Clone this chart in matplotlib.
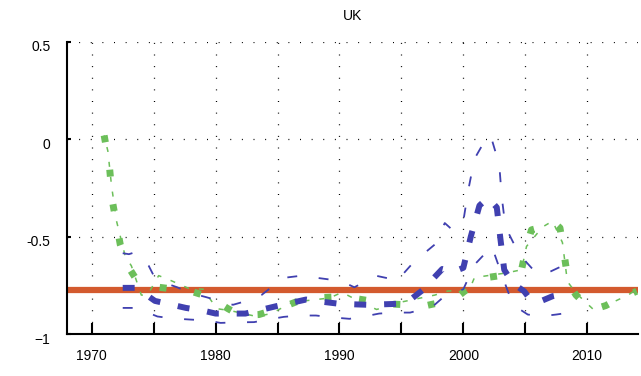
#!/usr/bin/env python3
import matplotlib

matplotlib.use("Agg")
import matplotlib.pyplot as plt
from matplotlib.transforms import ScaledTranslation

# blue band: central estimate and upper / lower bounds
blue_mid_years = [1972.5, 1973.6, 1975.1, 1976.5, 1977.6, 1979.0, 1980.0, 1982.4, 1984.9,
                  1987.3, 1988.7, 1990.0, 1992.3, 1994.7, 1995.8, 1996.7, 1997.5, 1998.3,
                  1999.2, 2000.0, 2000.6, 2001.3, 2002.0, 2002.7, 2003.0, 2003.3, 2004.0,
                  2004.9, 2005.5, 2006.3, 2007.2, 2008.4]
blue_mid = [-0.763, -0.763, -0.83, -0.85, -0.866, -0.88, -0.895, -0.895, -0.857,
            -0.823, -0.835, -0.845, -0.85, -0.845, -0.82, -0.775, -0.72, -0.666,
            -0.68, -0.66, -0.50, -0.34, -0.30, -0.35, -0.515, -0.67, -0.74,
            -0.78, -0.83, -0.83, -0.806, -0.79]

blue_up_years = [1972.5, 1973.0, 1973.5, 1974.6, 1975.0, 1976.0, 1976.9, 1978.0, 1979.2,
                 1980.3, 1981.4, 1982.5, 1983.7, 1984.7, 1985.7, 1987.0, 1988.0, 1989.2,
                 1990.2, 1991.2, 1992.4, 1992.9, 1994.0, 1994.6, 1996.0, 1997.7, 1998.5,
                 1999.2, 2000.0, 2000.4, 2000.9, 2001.8, 2002.2, 2002.9, 2003.1, 2003.4,
                 2004.5, 2005.5, 2006.3, 2007.0, 2008.0, 2009.0]
blue_up = [-0.585, -0.59, -0.58, -0.65, -0.70, -0.74, -0.76, -0.79, -0.81,
           -0.83, -0.85, -0.83, -0.80, -0.75, -0.71, -0.70, -0.71, -0.72,
           -0.73, -0.76, -0.72, -0.70, -0.715, -0.73, -0.63, -0.54, -0.43,
           -0.47, -0.42, -0.26, -0.10, 0.00, 0.02, -0.13, -0.296, -0.45,
           -0.59, -0.66, -0.70, -0.68, -0.65, -0.65]

blue_lo_years = [1972.5, 1973.6, 1975.3, 1976.5, 1978.0, 1979.2, 1980.4, 1981.8, 1983.1,
                 1984.3, 1985.5, 1986.8, 1988.1, 1989.5, 1990.8, 1992.0, 1993.2, 1994.5,
                 1995.7, 1997.5, 1998.4, 1999.2, 2000.0, 2000.9, 2002.3, 2003.1, 2004.0,
                 2005.2, 2006.3, 2007.5, 2008.8]
blue_lo = [-0.866, -0.866, -0.91, -0.92, -0.926, -0.93, -0.943, -0.94, -0.939,
           -0.925, -0.912, -0.905, -0.905, -0.915, -0.922, -0.91, -0.895, -0.89,
           -0.89, -0.86, -0.81, -0.79, -0.77, -0.644, -0.55, -0.695, -0.85,
           -0.90, -0.909, -0.90, -0.888]

# green model path (thick dotted) and its companion (thin dashed)
green_a_years = [1971.0, 1971.4, 1971.7, 1972.3, 1973.0, 1973.5, 1974.8, 1976.7, 1978.0,
                 1979.5, 1981.0, 1982.0, 1983.5, 1985.1, 1986.5, 1988.1, 1989.5, 1991.0,
                 1992.5, 1993.8, 1995.5, 1996.8, 1998.0, 1999.5, 2000.5, 2001.7, 2003.0,
                 2004.0, 2004.7, 2005.1, 2005.5, 2006.4, 2007.2, 2007.8, 2008.0, 2008.3,
                 2008.5, 2009.1, 2009.7, 2010.5, 2011.5, 2012.3, 2013.3, 2014.0]
green_a = [0.02, -0.12, -0.33, -0.54, -0.66, -0.71, -0.755, -0.77, -0.78,
           -0.81, -0.87, -0.905, -0.90, -0.87, -0.835, -0.814, -0.81, -0.815,
           -0.83, -0.845, -0.85, -0.857, -0.84, -0.81, -0.76, -0.712, -0.70,
           -0.69, -0.67, -0.55, -0.465, -0.45, -0.42, -0.455, -0.53, -0.66,
           -0.74, -0.80, -0.837, -0.874, -0.854, -0.827, -0.80, -0.78]

green_b_years = [1971.0, 1971.3, 1971.6, 1972.0, 1972.7, 1973.2, 1974.0, 1974.5, 1975.4,
                 1976.2, 1977.8, 1979.0, 1980.1, 1981.2, 1983.3, 1984.5, 1986.2, 1989.2,
                 1990.2, 1992.0, 1993.0, 1994.9, 1997.7, 1998.7, 2000.5, 2000.9, 2003.5,
                 2004.7, 2005.1, 2006.4, 2007.2, 2008.0, 2008.4, 2009.1, 2010.5, 2011.5,
                 2013.3, 2014.0]
green_b = [0.02, -0.06, -0.24, -0.42, -0.60, -0.65, -0.80, -0.80, -0.70,
           -0.72, -0.765, -0.77, -0.87, -0.88, -0.91, -0.895, -0.837, -0.815,
           -0.786, -0.845, -0.874, -0.837, -0.80, -0.78, -0.77, -0.71, -0.686,
           -0.67, -0.55, -0.45, -0.42, -0.53, -0.73, -0.79, -0.874, -0.854,
           -0.80, -0.77]

benchmark = -0.775

x_ticks = list(range(1970, 2011, 5))
x_tick_labels = [str(y) if y % 10 == 0 else "" for y in x_ticks]
y_ticks = [-1, -0.5, 0, 0.5]
y_tick_labels = ["\u22121", "-0.5", "0", "0.5"]

BLUE = "#4040b0"
GREEN = "#6cbf5a"
ORANGE = "#d35a2e"


def main() -> None:
    plt.rcParams["font.family"] = ["Liberation Sans", "DejaVu Sans"]
    fig = plt.figure(figsize=(6.41, 3.76), dpi=100)
    ax = fig.add_axes([0.1045, 0.1117, 0.8908, 0.7766])

    ax.axhline(benchmark, color=ORANGE, lw=4.5, zorder=2)

    ax.plot(green_b_years, green_b, color=GREEN, lw=1.1, linestyle=(2, (3.3, 6.5)), zorder=3)
    ax.plot(green_a_years, green_a, color=GREEN, lw=5, linestyle=(0, (1, 4)), zorder=3)

    ax.plot(blue_up_years, blue_up, color=BLUE, lw=1.3, linestyle=(0, (5.5, 12)), zorder=4)
    ax.plot(blue_lo_years, blue_lo, color=BLUE, lw=1.3, linestyle=(0, (5.5, 12)), zorder=4)
    ax.plot(blue_mid_years, blue_mid, color=BLUE, lw=4.3, linestyle=(0, (2, 3)), zorder=4)

    ax.set_xlim(1968, 2014.1)
    ax.set_ylim(-1, 0.5)
    ax.set_xticks(x_ticks)
    ax.set_xticklabels(x_tick_labels)
    ax.set_yticks(y_ticks)
    ax.set_yticklabels(y_tick_labels)

    ax.grid(True, color="black", lw=0.9, linestyle=(0, (0.8, 8.5)), zorder=1)
    ax.set_axisbelow(True)

    for side in ("top", "right"):
        ax.spines[side].set_visible(False)
    for side in ("left", "bottom"):
        ax.spines[side].set_linewidth(1.5)

    ax.tick_params(axis="x", direction="in", length=8, width=1.5, pad=11, labelsize=10)
    ax.tick_params(axis="y", direction="in", length=3, width=1.5, pad=12, labelsize=10)
    shift = ScaledTranslation(0, -4 / 100, fig.dpi_scale_trans)
    for label in ax.get_yticklabels():
        label.set_transform(label.get_transform() + shift)

    ax.set_title("UK", fontsize=10, pad=16)

    fig.savefig("out.png", dpi=100)
    plt.close(fig)


if __name__ == "__main__":
    main()
